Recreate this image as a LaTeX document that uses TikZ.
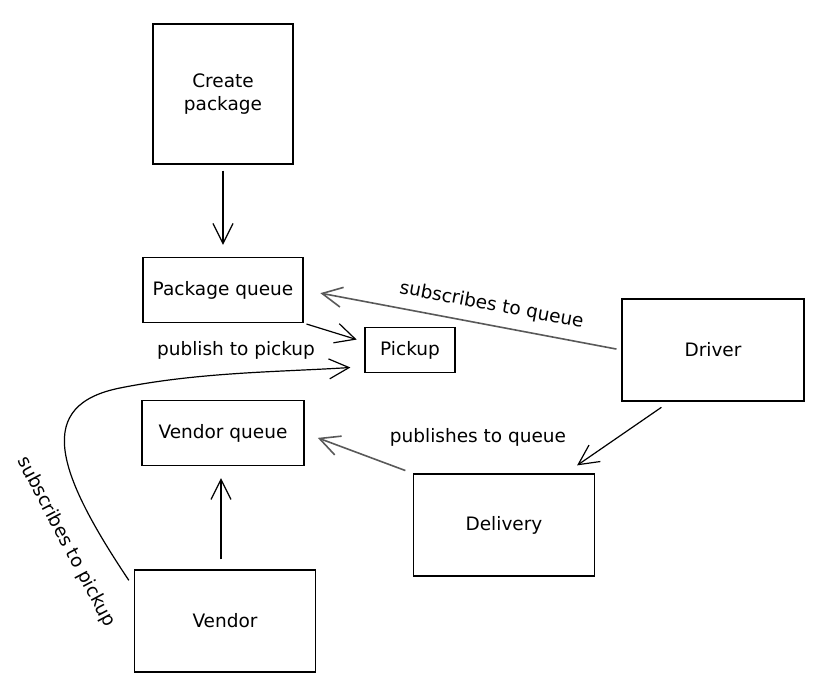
\documentclass[tikz,border=0pt]{standalone}
\usepackage{fontspec}
\setmainfont{DejaVu Sans}
\usetikzlibrary{arrows.meta}

\begin{document}
\begin{tikzpicture}[x=1pt,y=1pt,>={Straight Barb[length=20pt,width=20pt]},font=\fontsize{18.5}{23}\selectfont]
    \tikzstyle{box}=[draw, line width=1.3pt, inner sep=0pt, align=center]
    \tikzstyle{flow}=[->, line width=1.2pt]
    \tikzstyle{support}=[->, line width=1.6pt, gray!70!black]
    \tikzstyle{lbl}=[inner sep=2pt, text=black]

    \useasboundingbox (0,0) rectangle (828,692);

    % Boxes
    \node[box, minimum width=140pt, minimum height=140pt] (createpkg) at (223,598)
        {Create\\package};
    \node[box, minimum width=160pt, minimum height=65pt] (pkgqueue) at (223,402)
        {Package queue};
    \node[box, minimum width=90pt, minimum height=45pt] (pickup) at (410,342)
        {Pickup};
    \node[box, minimum width=162pt, minimum height=65pt] (vendorqueue) at (223,259)
        {Vendor queue};
    \node[box, minimum width=181pt, minimum height=102pt] (vendor) at (225,71)
        {Vendor};
    \node[box, minimum width=181pt, minimum height=102pt] (delivery) at (504,167)
        {Delivery};
    \node[box, minimum width=182pt, minimum height=102pt] (driver) at (713,342)
        {Driver};

    % Free labels
    \node[lbl] (pubpickup) at (236,342) {publish to pickup};
    \node[lbl] (pubqueue) at (478,255) {publishes to queue};
    \node[lbl, rotate=-62] (subpickup) at (66,150) {subscribes to pickup};

    % Flows
    \draw[flow, shorten <=6pt, shorten >=12pt] (createpkg) -- (pkgqueue);
    \draw[flow, shorten <=3pt, shorten >=8pt] (pkgqueue.south east) -- (pickup.170);
    \draw[flow, shorten <=10pt, shorten >=12pt] (vendor.north) ++(-4,0) coordinate (vup) (vup) -- (vup |- vendorqueue.south);
    \draw[flow, shorten <=10pt, shorten >=14pt] (driver.230) -- (delivery.40);
    \draw[flow, shorten <=9pt, shorten >=14pt] (vendor.160) .. controls (55,222) and (35,287) .. (120,304)
        .. controls (200,320) and (280,320) .. (pickup.200);

    % Subscriptions
    \draw[support, shorten <=5pt, shorten >=17pt] (driver.west) -- node[lbl, sloped, above=8pt, pos=0.42] {subscribes to queue} (pkgqueue.east);
    \draw[support, shorten <=8pt, shorten >=14pt] (delivery.north west) -- (vendorqueue.east);
\end{tikzpicture}
\end{document}
